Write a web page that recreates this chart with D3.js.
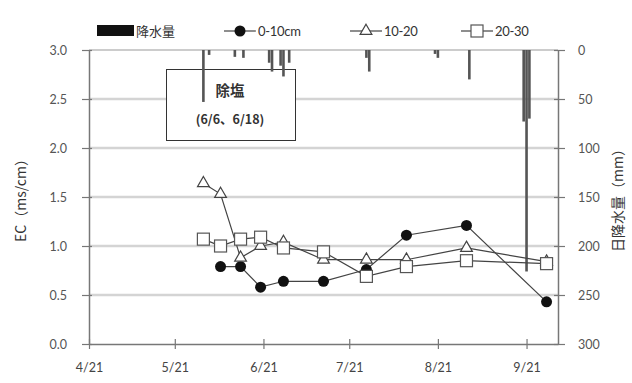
<!DOCTYPE html>
<html>
<head>
<meta charset="utf-8">
<script src="https://cdn.jsdelivr.net/npm/d3@7"></script>
<style>
  html, body { margin: 0; padding: 0; background: #fff; }
  svg { display: block; }
  text { font-family: Lato, "Noto Sans", "Noto Sans CJK JP", sans-serif; }
  .jp { font-family: "Noto Sans CJK JP", sans-serif; }
</style>
</head>
<body>
<svg id="chart" width="632" height="383"></svg>
<script>
// Sampling dates and EC readings (ms/cm) per soil depth
const sampleDates = ["2013-05-31", "2013-06-06", "2013-06-13", "2013-06-20", "2013-06-28",
                     "2013-07-12", "2013-07-27", "2013-08-10", "2013-08-31", "2013-09-28"];
const ec0to10  = [null, 0.79, 0.79, 0.58, 0.64, 0.64, 0.76, 1.11, 1.21, 0.43];
const ec10to20 = [1.64, 1.53, 0.88, 1.00, 1.04, 0.86, 0.86, 0.86, 0.98, 0.84];
const ec20to30 = [1.07, 1.00, 1.07, 1.09, 0.98, 0.94, 0.69, 0.79, 0.85, 0.82];

// Daily precipitation (mm)
const rainDates = ["2013-05-31", "2013-06-02", "2013-06-11", "2013-06-14", "2013-06-23", "2013-06-24",
                   "2013-06-27", "2013-06-28", "2013-06-30", "2013-07-27", "2013-07-28",
                   "2013-08-20", "2013-08-21", "2013-09-01", "2013-09-20", "2013-09-21", "2013-09-22"];
const rainMm = [53, 5, 7, 8, 13, 22, 16, 27, 13, 8, 22, 4, 8, 30, 73, 226, 70];

// Axis ticks
const xTickDates = ["2013-04-21", "2013-05-21", "2013-06-21", "2013-07-21", "2013-08-21", "2013-09-21"];
const ecTicks = [0, 0.5, 1.0, 1.5, 2.0, 2.5, 3.0];
const rainTicks = [0, 50, 100, 150, 200, 250, 300];

const parse = d3.timeParse("%Y-%m-%d");
const svg = d3.select("#chart");

const plotLeft = 89, plotRight = 558, plotTop = 50, plotBottom = 344;

const x = d3.scaleTime()
  .domain([parse("2013-04-21"), parse("2013-10-02")])
  .range([plotLeft, plotRight]);
const y = d3.scaleLinear().domain([0, 3]).range([plotBottom, plotTop]);
const yRain = d3.scaleLinear().domain([0, 300]).range([plotTop, plotBottom]);

// Horizontal gridlines
svg.append("g")
  .selectAll("line")
  .data(ecTicks.filter(v => v > 0))
  .join("line")
  .attr("x1", plotLeft).attr("x2", plotRight)
  .attr("y1", d => y(d)).attr("y2", d => y(d))
  .attr("stroke", d => d === 3 ? "#999" : "#d4d4d4")
  .attr("stroke-width", d => d === 3 ? 1.2 : 2.5);

// Desalting annotation box
const box = svg.append("g");
box.append("rect")
  .attr("x", 166.5).attr("y", 69.5).attr("width", 129).attr("height", 71)
  .attr("fill", "#fff").attr("stroke", "#333").attr("stroke-width", 1);
box.append("text").attr("class", "jp")
  .attr("x", 230).attr("y", 96)
  .attr("text-anchor", "middle").attr("font-size", 14.5).attr("font-weight", "bold")
  .attr("fill", "#333").text("除塩");
box.append("text").attr("class", "jp")
  .attr("x", 230).attr("y", 124)
  .attr("text-anchor", "middle").attr("font-size", 12.5).attr("font-weight", "bold")
  .attr("fill", "#333").text("(6/6、6/18)");

// Precipitation bars hanging from the top
svg.append("g")
  .selectAll("rect")
  .data(rainDates.map((d, i) => ({ date: parse(d), mm: rainMm[i] })))
  .join("rect")
  .attr("x", d => x(d.date) - 1.3)
  .attr("width", 2.6)
  .attr("y", yRain(0))
  .attr("height", d => yRain(d.mm) - yRain(0))
  .attr("fill", "#555");

// Axes
const axisColor = "#777";
const gx = svg.append("g").attr("transform", `translate(0,${plotBottom})`)
  .call(d3.axisBottom(x)
    .tickValues(xTickDates.map(parse))
    .tickFormat(d3.timeFormat("%-m/%-d"))
    .tickSize(0));
gx.select(".domain").attr("stroke", axisColor).attr("stroke-width", 1.5);
gx.selectAll(".tick text").attr("dy", 0).attr("y", 28).attr("font-size", 12.5).attr("fill", "#444");
gx.selectAll(".tick").append("line").attr("y1", -5).attr("y2", 5).attr("stroke", axisColor).attr("stroke-width", 1.2);

const gy = svg.append("g").attr("transform", `translate(${plotLeft},0)`)
  .call(d3.axisLeft(y).tickValues(ecTicks).tickFormat(d3.format(".1f")).tickSize(0));
gy.select(".domain").attr("stroke", axisColor).attr("stroke-width", 1.5);
gy.selectAll(".tick text").attr("x", -22).attr("font-size", 12.5).attr("fill", "#555");
gy.selectAll(".tick").append("line").attr("x1", -7).attr("x2", 3).attr("stroke", axisColor).attr("stroke-width", 1.2);

const gr = svg.append("g").attr("transform", `translate(${plotRight},0)`)
  .call(d3.axisRight(yRain).tickValues(rainTicks).tickSize(0));
gr.select(".domain").attr("stroke", axisColor).attr("stroke-width", 1.5);
gr.selectAll(".tick text").attr("x", 20).attr("font-size", 12.5).attr("fill", "#555");
gr.selectAll(".tick").append("line").attr("x1", -4).attr("x2", 7).attr("stroke", axisColor).attr("stroke-width", 1.2);

// Axis titles
svg.append("text").attr("class", "jp")
  .attr("transform", `translate(26,${(plotTop + plotBottom) / 2}) rotate(-90)`)
  .attr("text-anchor", "middle").attr("font-size", 14).attr("fill", "#333")
  .text("EC（ms/cm）");
svg.append("text").attr("class", "jp")
  .attr("transform", `translate(623,${(plotTop + plotBottom) / 2}) rotate(-90)`)
  .attr("text-anchor", "middle").attr("font-size", 14).attr("fill", "#333")
  .text("日降水量（mm）");

// EC series
const series = [
  { name: "0-10cm", values: ec0to10, marker: "circle" },
  { name: "10-20", values: ec10to20, marker: "triangle" },
  { name: "20-30", values: ec20to30, marker: "square" }
];

const lineGen = d3.line()
  .defined(d => d.v != null)
  .x(d => x(d.date)).y(d => y(d.v));

function drawMarker(g, type, cx, cy) {
  if (type === "circle") {
    g.append("circle").attr("cx", cx).attr("cy", cy).attr("r", 5.5).attr("fill", "#111");
  } else if (type === "triangle") {
    g.append("path")
      .attr("d", d3.symbol().type(d3.symbolTriangle).size(60)())
      .attr("transform", `translate(${cx},${cy})`)
      .attr("fill", "#fff").attr("stroke", "#444").attr("stroke-width", 1.2);
  } else {
    g.append("rect").attr("x", cx - 6).attr("y", cy - 6).attr("width", 12).attr("height", 12)
      .attr("fill", "#fff").attr("stroke", "#555").attr("stroke-width", 1.2);
  }
}

series.forEach(s => {
  const pts = sampleDates.map((d, i) => ({ date: parse(d), v: s.values[i] }));
  const g = svg.append("g");
  g.append("path").datum(pts).attr("d", lineGen)
    .attr("fill", "none").attr("stroke", "#444").attr("stroke-width", 1.2);
  pts.filter(p => p.v != null).forEach(p => drawMarker(g, s.marker, x(p.date), y(p.v)));
});

// Legend
const lg = svg.append("g");
lg.append("rect").attr("x", 97).attr("y", 25).attr("width", 37).attr("height", 11).attr("fill", "#111");
lg.append("text").attr("class", "jp").attr("x", 136).attr("y", 35.5)
  .attr("font-size", 13).attr("fill", "#333").text("降水量");
const legendItems = [
  { marker: "circle", x0: 224, label: "0-10cm" },
  { marker: "triangle", x0: 350, label: "10-20" },
  { marker: "square", x0: 461, label: "20-30" }
];
legendItems.forEach(it => {
  lg.append("line").attr("x1", it.x0).attr("x2", it.x0 + 32).attr("y1", 31).attr("y2", 31)
    .attr("stroke", "#444").attr("stroke-width", 1.2);
  drawMarker(lg, it.marker, it.x0 + 16, 31);
  lg.append("text").attr("x", it.x0 + 34).attr("y", 35.5)
    .attr("font-size", 13).attr("fill", "#333").attr("letter-spacing", -0.3).text(it.label);
});
</script>
</body>
</html>
